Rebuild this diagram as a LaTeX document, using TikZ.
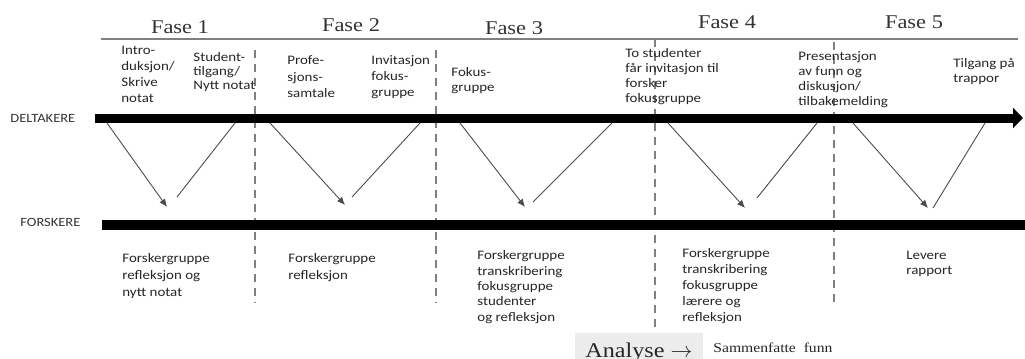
\documentclass[tikz,border=0pt]{standalone}
\usepackage{fontspec}
\setmainfont{Liberation Serif}[FakeStretch=1.15]
\newfontfamily\sansnote{Carlito}[FakeStretch=1.15]
\usetikzlibrary{arrows.meta}

\tikzset{
  note/.style={anchor=north west, inner sep=0pt, align=left, text=black!85,
    font=\sansnote\fontsize{6.5}{#1}\selectfont},
  note/.default=7.5pt,
  fase/.style={text=black!80, inner sep=0pt, font=\fontsize{9.75}{11}\selectfont},
  actor/.style={anchor=west, inner sep=0pt, text=black!80, font=\sansnote\fontsize{6.3}{7}\selectfont},
  phaseline/.style={gray, line width=0.6pt, dash pattern=on 4pt off 3pt},
  flow/.style={black!70, line width=0.45pt},
}

\begin{document}
\begin{tikzpicture}[x=0.5pt, y=-0.5pt, line join=round]
    \useasboundingbox (0,0) rectangle (1025,359);

    % phase headings
    \coordinate (T1) at (101,39);
    \coordinate (T2) at (1018,39);
    \draw[gray, line width=0.8pt] (T1) -- (T2);
    \node[fase] (fase1) at (180,27) {Fase 1};
    \node[fase] (fase2) at (351,25) {Fase 2};
    \node[fase] (fase3) at (514,28) {Fase 3};
    \node[fase] (fase4) at (727,22) {Fase 4};
    \node[fase] (fase5) at (914,22) {Fase 5};

    % phase borders
    \draw[phaseline] (255,50) -- (255,303);
    \draw[phaseline] (436,50) -- (436,303);
    \draw[phaseline] (655,39) -- (655,330);
    \draw[phaseline] (834,42) -- (834,302);

    % the two lanes
    \node[actor] (deltakere) at (10,118) {DELTAKERE};
    \node[actor] (forskere) at (20,222) {FORSKERE};
    \coordinate (DL) at (95,118);
    \coordinate (DR) at (1023,118);
    \coordinate (FL) at (102,225);
    \coordinate (FR) at (1025,225);
    \draw[black, line width=4.5pt, -{Triangle[length=5pt, width=10pt]}] (DL) -- (DR);
    \draw[black, line width=5pt] (FL) -- (FR);

    % down to the researchers and back up
    \foreach \i/\xa/\xb/\yb/\xc/\yc/\xd in {1/107/167/207/177/197/235,
        2/270/345/205/352/197/420, 3/460/525/207/533/202/612,
        4/668/745/208/757/198/817, 5/853/928/208/933/208/985} {
      \coordinate (D\i) at (\xa,123);
      \coordinate (F\i) at (\xb,\yb);
      \coordinate (G\i) at (\xc,\yc);
      \coordinate (E\i) at (\xd,123);
      \draw[flow, -{Latex[length=4pt, width=3.4pt]}] (D\i) -- (F\i);
      \draw[flow] (G\i) -- (E\i);
    }

    % participants
    \node[note=8pt] (intro) at (121,45.5) {Intro-\\duksjon/\\Skrive\\notat};
    \node[note=6.8pt] (student) at (193,52.5) {Student-\\tilgang/\\Nytt notat};
    \node[note=8.2pt] (profe) at (287,55.5) {Profe-\\sjons-\\samtale};
    \node[note=8pt] (invit) at (371,55.5) {Invitasjon\\fokus-\\gruppe};
    \node[note] (fokus) at (451,67.5) {Fokus-\\gruppe};
    \node[note] (tostud) at (625,48.5) {To studenter\\får invitasjon til\\forsker\\fokusgruppe};
    \node[note=7.4pt] (present) at (798,51.5) {Presentasjon\\av funn og\\diskusjon/\\tilbakemelding};
    \node[note] (tilgang) at (953,57.5) {Tilgang på\\trappor};

    % researchers
    \node[note=8.5pt] (refl1) at (122,253.5) {Forskergruppe\\refleksjon og\\nytt notat};
    \node[note=8.5pt] (refl2) at (288,253.5) {Forskergruppe\\refleksjon};
    \node[note=7.65pt] (trans3) at (477,250.5) {Forskergruppe\\transkribering\\fokusgruppe\\studenter\\og refleksjon};
    \node[note=8pt] (trans4) at (682,248.5) {Forskergruppe\\transkribering\\fokusgruppe\\lærere og\\refleksjon};
    \node[note] (levere) at (906,250.5) {Levere\\rapport};

    % analysis
    \fill[gray!15] (575,333) rectangle (703,359);
    \node[anchor=base west, inner sep=0pt, text=black!85, font=\fontsize{10.5}{12}\selectfont]
        (analyse) at (585,357) {Analyse $\rightarrow$};
    \node[anchor=base west, inner sep=0pt, text=black!85, font=\fontsize{6.8}{8}\selectfont]
        (sammen) at (713,352) {Sammenfatte\ \ funn};
\end{tikzpicture}
\end{document}
